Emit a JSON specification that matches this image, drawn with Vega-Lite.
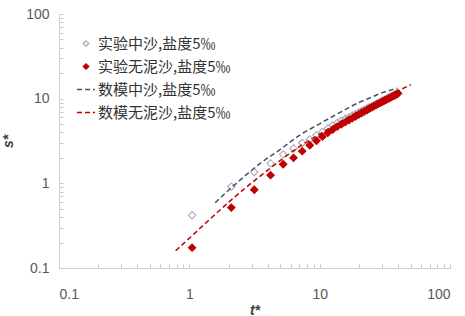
{
  "$schema": "https://vega.github.io/schema/vega-lite/v6.json",
  "width": 391,
  "height": 254,
  "autosize": {"type": "none"},
  "padding": {"left": 59, "top": 14, "right": 15, "bottom": 48},
  "background": "white",
  "config": {
    "view": {"stroke": null},
    "font": "Liberation Sans",
    "legend": {
      "labelFont": "Noto Sans CJK SC",
      "labelFontSize": 15,
      "labelColor": "#333333",
      "padding": 0,
      "rowPadding": 5,
      "labelLimit": 0
    },
    "axis": {
      "grid": false,
      "domainColor": "#d0d0d0",
      "tickColor": "#c8c8c8",
      "tickSize": -4,
      "labelFont": "Liberation Sans",
      "labelFontSize": 14,
      "labelColor": "#595959",
      "titleFont": "Liberation Sans",
      "titleFontSize": 14,
      "titleFontStyle": "italic",
      "titleFontWeight": "bold",
      "titleColor": "#404040"
    }
  },
  "datasets": {
    "exp": [
      {"series": "实验中沙,盐度5‰", "t": 1.05, "s": 0.42},
      {"series": "实验中沙,盐度5‰", "t": 2.1, "s": 0.915},
      {"series": "实验中沙,盐度5‰", "t": 3.15, "s": 1.36},
      {"series": "实验中沙,盐度5‰", "t": 4.2, "s": 1.72},
      {"series": "实验中沙,盐度5‰", "t": 5.25, "s": 2.2},
      {"series": "实验中沙,盐度5‰", "t": 6.3, "s": 2.58},
      {"series": "实验中沙,盐度5‰", "t": 7.35, "s": 3.0},
      {"series": "实验中沙,盐度5‰", "t": 8.4, "s": 3.3},
      {"series": "实验中沙,盐度5‰", "t": 9.45, "s": 3.7},
      {"series": "实验中沙,盐度5‰", "t": 10.5, "s": 4.05},
      {"series": "实验中沙,盐度5‰", "t": 11.55, "s": 4.45},
      {"series": "实验中沙,盐度5‰", "t": 12.6, "s": 4.82},
      {"series": "实验中沙,盐度5‰", "t": 13.65, "s": 5.18},
      {"series": "实验中沙,盐度5‰", "t": 14.7, "s": 5.5},
      {"series": "实验中沙,盐度5‰", "t": 15.75, "s": 5.78},
      {"series": "实验中沙,盐度5‰", "t": 16.8, "s": 6.06},
      {"series": "实验中沙,盐度5‰", "t": 17.85, "s": 6.32},
      {"series": "实验中沙,盐度5‰", "t": 18.9, "s": 6.6},
      {"series": "实验中沙,盐度5‰", "t": 19.95, "s": 6.88},
      {"series": "实验中沙,盐度5‰", "t": 21.0, "s": 7.14},
      {"series": "实验中沙,盐度5‰", "t": 22.05, "s": 7.4},
      {"series": "实验中沙,盐度5‰", "t": 23.1, "s": 7.66},
      {"series": "实验中沙,盐度5‰", "t": 24.15, "s": 7.92},
      {"series": "实验中沙,盐度5‰", "t": 25.2, "s": 8.18},
      {"series": "实验中沙,盐度5‰", "t": 26.25, "s": 8.44},
      {"series": "实验中沙,盐度5‰", "t": 27.3, "s": 8.7},
      {"series": "实验中沙,盐度5‰", "t": 28.35, "s": 8.95},
      {"series": "实验中沙,盐度5‰", "t": 29.4, "s": 9.2},
      {"series": "实验中沙,盐度5‰", "t": 30.45, "s": 9.45},
      {"series": "实验中沙,盐度5‰", "t": 31.5, "s": 9.71},
      {"series": "实验中沙,盐度5‰", "t": 32.55, "s": 9.96},
      {"series": "实验中沙,盐度5‰", "t": 33.6, "s": 10.21},
      {"series": "实验中沙,盐度5‰", "t": 34.65, "s": 10.46},
      {"series": "实验中沙,盐度5‰", "t": 35.7, "s": 10.71},
      {"series": "实验中沙,盐度5‰", "t": 36.75, "s": 10.95},
      {"series": "实验中沙,盐度5‰", "t": 37.8, "s": 11.21},
      {"series": "实验中沙,盐度5‰", "t": 38.85, "s": 11.45},
      {"series": "实验中沙,盐度5‰", "t": 39.9, "s": 11.71},
      {"series": "实验无泥沙,盐度5‰", "t": 1.05, "s": 0.174},
      {"series": "实验无泥沙,盐度5‰", "t": 2.1, "s": 0.517},
      {"series": "实验无泥沙,盐度5‰", "t": 3.15, "s": 0.84},
      {"series": "实验无泥沙,盐度5‰", "t": 4.2, "s": 1.25},
      {"series": "实验无泥沙,盐度5‰", "t": 5.25, "s": 1.68},
      {"series": "实验无泥沙,盐度5‰", "t": 6.3, "s": 2.0},
      {"series": "实验无泥沙,盐度5‰", "t": 7.35, "s": 2.4},
      {"series": "实验无泥沙,盐度5‰", "t": 8.4, "s": 2.82},
      {"series": "实验无泥沙,盐度5‰", "t": 9.45, "s": 3.18},
      {"series": "实验无泥沙,盐度5‰", "t": 10.5, "s": 3.56},
      {"series": "实验无泥沙,盐度5‰", "t": 11.55, "s": 3.95},
      {"series": "实验无泥沙,盐度5‰", "t": 12.6, "s": 4.32},
      {"series": "实验无泥沙,盐度5‰", "t": 13.65, "s": 4.68},
      {"series": "实验无泥沙,盐度5‰", "t": 14.7, "s": 4.99},
      {"series": "实验无泥沙,盐度5‰", "t": 15.75, "s": 5.29},
      {"series": "实验无泥沙,盐度5‰", "t": 16.8, "s": 5.6},
      {"series": "实验无泥沙,盐度5‰", "t": 17.85, "s": 5.89},
      {"series": "实验无泥沙,盐度5‰", "t": 18.9, "s": 6.19},
      {"series": "实验无泥沙,盐度5‰", "t": 19.95, "s": 6.49},
      {"series": "实验无泥沙,盐度5‰", "t": 21.0, "s": 6.78},
      {"series": "实验无泥沙,盐度5‰", "t": 22.05, "s": 7.07},
      {"series": "实验无泥沙,盐度5‰", "t": 23.1, "s": 7.36},
      {"series": "实验无泥沙,盐度5‰", "t": 24.15, "s": 7.64},
      {"series": "实验无泥沙,盐度5‰", "t": 25.2, "s": 7.93},
      {"series": "实验无泥沙,盐度5‰", "t": 26.25, "s": 8.21},
      {"series": "实验无泥沙,盐度5‰", "t": 27.3, "s": 8.47},
      {"series": "实验无泥沙,盐度5‰", "t": 28.35, "s": 8.73},
      {"series": "实验无泥沙,盐度5‰", "t": 29.4, "s": 8.99},
      {"series": "实验无泥沙,盐度5‰", "t": 30.45, "s": 9.24},
      {"series": "实验无泥沙,盐度5‰", "t": 31.5, "s": 9.5},
      {"series": "实验无泥沙,盐度5‰", "t": 32.55, "s": 9.75},
      {"series": "实验无泥沙,盐度5‰", "t": 33.6, "s": 10.0},
      {"series": "实验无泥沙,盐度5‰", "t": 34.65, "s": 10.25},
      {"series": "实验无泥沙,盐度5‰", "t": 35.7, "s": 10.5},
      {"series": "实验无泥沙,盐度5‰", "t": 36.75, "s": 10.74},
      {"series": "实验无泥沙,盐度5‰", "t": 37.8, "s": 10.99},
      {"series": "实验无泥沙,盐度5‰", "t": 38.85, "s": 11.23},
      {"series": "实验无泥沙,盐度5‰", "t": 39.9, "s": 11.48}
    ],
    "model": [
      {"series": "数模中沙,盐度5‰", "t": 1.58, "s": 0.59},
      {"series": "数模中沙,盐度5‰", "t": 2.0, "s": 0.83},
      {"series": "数模中沙,盐度5‰", "t": 2.5, "s": 1.12},
      {"series": "数模中沙,盐度5‰", "t": 3.5, "s": 1.72},
      {"series": "数模中沙,盐度5‰", "t": 5.0, "s": 2.52},
      {"series": "数模中沙,盐度5‰", "t": 7.0, "s": 3.68},
      {"series": "数模中沙,盐度5‰", "t": 10.0, "s": 5.05},
      {"series": "数模中沙,盐度5‰", "t": 14.5, "s": 6.95},
      {"series": "数模中沙,盐度5‰", "t": 20.0, "s": 9.0},
      {"series": "数模中沙,盐度5‰", "t": 25.0, "s": 10.4},
      {"series": "数模中沙,盐度5‰", "t": 30.0, "s": 11.7},
      {"series": "数模中沙,盐度5‰", "t": 35.0, "s": 12.6},
      {"series": "数模中沙,盐度5‰", "t": 39.5, "s": 13.3},
      {"series": "数模无泥沙,盐度5‰", "t": 0.785, "s": 0.16},
      {"series": "数模无泥沙,盐度5‰", "t": 1.0, "s": 0.225},
      {"series": "数模无泥沙,盐度5‰", "t": 1.5, "s": 0.4},
      {"series": "数模无泥沙,盐度5‰", "t": 2.13, "s": 0.65},
      {"series": "数模无泥沙,盐度5‰", "t": 3.0, "s": 1.01},
      {"series": "数模无泥沙,盐度5‰", "t": 4.0, "s": 1.43},
      {"series": "数模无泥沙,盐度5‰", "t": 5.0, "s": 1.87},
      {"series": "数模无泥沙,盐度5‰", "t": 7.0, "s": 2.71},
      {"series": "数模无泥沙,盐度5‰", "t": 10.0, "s": 3.8},
      {"series": "数模无泥沙,盐度5‰", "t": 14.0, "s": 5.18},
      {"series": "数模无泥沙,盐度5‰", "t": 20.0, "s": 7.09},
      {"series": "数模无泥沙,盐度5‰", "t": 28.0, "s": 9.37},
      {"series": "数模无泥沙,盐度5‰", "t": 40.0, "s": 12.38},
      {"series": "数模无泥沙,盐度5‰", "t": 50.0, "s": 14.6}
    ]
  },
  "encoding": {
    "x": {
      "field": "t",
      "type": "quantitative",
      "scale": {"type": "log", "domain": [0.1, 100], "nice": false},
      "axis": {
        "title": "t*",
        "values": [0.1, 0.2, 0.3, 0.4, 0.5, 0.6, 0.7, 0.8, 0.9, 1, 2, 3, 4, 5, 6, 7, 8, 9, 10, 20, 30, 40, 50, 60, 70, 80, 90, 100],
        "labelExpr": "indexof([0.1, 1, 10, 100], datum.value) >= 0 ? format(datum.value, '~g') : ''",
        "labelPadding": 23,
        "titlePadding": 2
      }
    },
    "y": {
      "field": "s",
      "type": "quantitative",
      "scale": {"type": "log", "domain": [0.1, 100], "nice": false},
      "axis": {
        "title": "s*",
        "values": [0.1, 0.2, 0.3, 0.4, 0.5, 0.6, 0.7, 0.8, 0.9, 1, 2, 3, 4, 5, 6, 7, 8, 9, 10, 20, 30, 40, 50, 60, 70, 80, 90, 100],
        "labelExpr": "indexof([0.1, 1, 10, 100], datum.value) >= 0 ? format(datum.value, '~g') : ''",
        "labelPadding": 14,
        "titlePadding": 10
      }
    }
  },
  "layer": [
    {
      "data": {"name": "exp"},
      "mark": {"type": "point", "size": 600, "strokeWidth": 1.1, "opacity": 1},
      "encoding": {
        "fill": {
          "field": "series",
          "type": "nominal",
          "scale": {"domain": ["实验中沙,盐度5‰", "实验无泥沙,盐度5‰", "数模中沙,盐度5‰", "数模无泥沙,盐度5‰"], "range": ["transparent", "#c00000", "transparent", "transparent"]},
          "legend": {"title": null}
        },
        "stroke": {
          "field": "series",
          "type": "nominal",
          "scale": {"domain": ["实验中沙,盐度5‰", "实验无泥沙,盐度5‰", "数模中沙,盐度5‰", "数模无泥沙,盐度5‰"], "range": ["#a3acbc", "#c00000", "#44546a", "#c00000"]},
          "legend": {"title": null, "orient": "none", "legendX": 17, "legendY": 19.5, "labelOffset": 2, "symbolSize": 324, "symbolStrokeWidth": 1.3}
        },
        "shape": {
          "field": "series",
          "type": "nominal",
          "scale": {"domain": ["实验中沙,盐度5‰", "实验无泥沙,盐度5‰", "数模中沙,盐度5‰", "数模无泥沙,盐度5‰"], "range": ["M-0.3,0L0,-0.3L0.3,0L0,0.3Z", "M-0.3,0L0,-0.3L0.3,0L0,0.3Z", "M-1,0L1,0", "M-1,0L1,0"]},
          "legend": {"title": null}
        }
      }
    },
    {
      "data": {"name": "model"},
      "mark": {"type": "line", "strokeWidth": 1.5, "interpolate": "monotone"},
      "encoding": {
        "stroke": {
          "field": "series",
          "type": "nominal",
          "scale": {"domain": ["实验中沙,盐度5‰", "实验无泥沙,盐度5‰", "数模中沙,盐度5‰", "数模无泥沙,盐度5‰"], "range": ["#a3acbc", "#c00000", "#44546a", "#c00000"]},
          "legend": {"title": null, "orient": "none", "legendX": 17, "legendY": 19.5, "labelOffset": 2, "symbolSize": 324, "symbolStrokeWidth": 1.3}
        },
        "strokeDash": {
          "field": "series",
          "type": "nominal",
          "scale": {"domain": ["实验中沙,盐度5‰", "实验无泥沙,盐度5‰", "数模中沙,盐度5‰", "数模无泥沙,盐度5‰"], "range": [[1, 0], [1, 0], [5, 3], [5, 3]]},
          "legend": {"title": null}
        }
      }
    }
  ]
}
